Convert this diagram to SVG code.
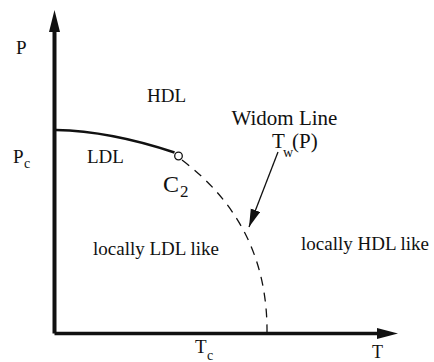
<svg xmlns="http://www.w3.org/2000/svg" width="434" height="362" viewBox="0 0 434 362">
<style>
text{font-family:"Liberation Serif","Times New Roman","DejaVu Serif",serif;fill:#111;font-size:19px}
.sub{font-size:14px}
.big{font-size:21px}
.axis{stroke:#111;stroke-width:4;fill:none}
</style>
<defs>
<marker id="ah" markerUnits="userSpaceOnUse" markerWidth="20" markerHeight="12" refX="18" refY="5" orient="auto">
<path d="M0,0 L18,5 L0,10 Z" fill="#111"/>
</marker>
</defs>
<rect width="434" height="362" fill="#fff"/>
<g id="axes">
<path class="axis" d="M54.5,333.5 V30"/>
<path d="M54.5,10 L60,32 L49,32 Z" fill="#111"/>
<path class="axis" d="M54.5,333.5 H380" style="stroke-width:3.5"/>
<path d="M398,333.5 L377,328 L377,339 Z" fill="#111"/>
</g>
<g id="connectors">
<path d="M56,130 Q110,131 174.5,152.5" fill="none" stroke="#111" stroke-width="2.5"/>
<path d="M182,160 Q268,225 267,333" fill="none" stroke="#111" stroke-width="1.3" stroke-dasharray="9,7"/>
<path d="M278,152 L249,227" fill="none" stroke="#111" stroke-width="1.3" marker-end="url(#ah)"/>
</g>
<g id="critical-point">
<circle cx="178.5" cy="156" r="3.8" fill="#fff" stroke="#111" stroke-width="1.3"/>
<text x="163" y="192" style="font-size:24px">C</text><text x="180" y="197" style="font-size:17px">2</text>
</g>
<g id="labels">
<text x="16" y="54">P</text>
<text x="13" y="163">P</text><text class="sub" x="24" y="168">c</text>
<text x="147" y="102">HDL</text>
<text x="87" y="163">LDL</text>
<text class="big" x="284.5" y="125" text-anchor="middle">Widom Line</text>
<text class="big" x="272" y="148">T</text><text class="sub" x="283" y="157">w</text><text class="big" x="292" y="148">(P)</text>
<text x="93" y="255">locally LDL like</text>
<text x="301" y="250">locally HDL like</text>
<text x="195" y="353">T</text><text class="sub" x="207" y="360">c</text>
<text x="372" y="358" style="font-size:18px">T</text>
</g>
</svg>
